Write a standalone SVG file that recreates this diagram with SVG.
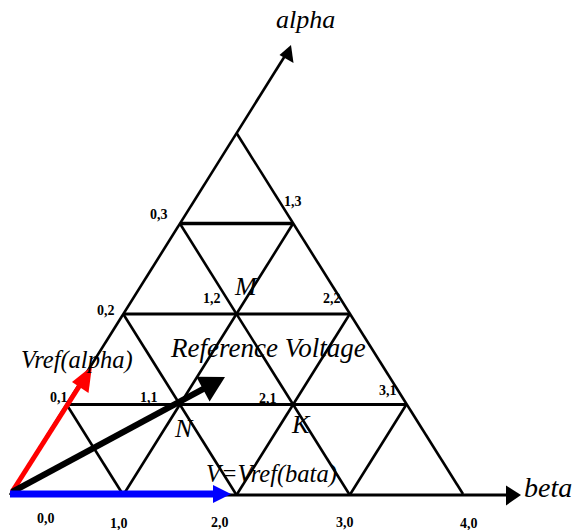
<svg xmlns="http://www.w3.org/2000/svg" width="575" height="530" viewBox="0 0 575 530">
<style>
.g{stroke:#000;stroke-width:2.6;fill:none;stroke-linecap:butt}
.lb{font-family:"Liberation Serif","Times New Roman",serif;font-weight:bold;font-size:14px;fill:#000}
.it{font-family:"Liberation Serif","Times New Roman",serif;font-style:italic;fill:#000}
</style>
<rect width="575" height="530" fill="#fff"/>
<g id="grid">
<line class="g" x1="10" y1="495" x2="288" y2="51"/>
<polygon points="291,45 293.5,63 279.5,55" fill="#000"/>
<line class="g" x1="236.5" y1="133" x2="463" y2="494"/>
<line class="g" x1="10" y1="495" x2="508" y2="495" style="stroke-width:3"/>
<polygon points="521,495 506,485.5 506,505.5" fill="#000"/>
<line class="g" x1="66.6" y1="404.5" x2="406.4" y2="404.5" style="stroke-width:3"/>
<line class="g" x1="123.25" y1="314" x2="349.75" y2="314" style="stroke-width:3"/>
<line class="g" x1="179.9" y1="223.5" x2="293.1" y2="223.5" style="stroke-width:3.5"/>
<line class="g" x1="123.25" y1="495" x2="293.1" y2="223.5"/>
<line class="g" x1="236.5" y1="495" x2="349.75" y2="314"/>
<line class="g" x1="349.75" y1="495" x2="406.4" y2="404.5"/>
<line class="g" x1="66.6" y1="404.5" x2="123.25" y2="495"/>
<line class="g" x1="123.25" y1="314" x2="236.5" y2="495"/>
<line class="g" x1="179.9" y1="223.5" x2="349.75" y2="495"/>
</g>
<g id="vectors">
<line x1="12" y1="492" x2="80" y2="385" stroke="#f00" stroke-width="5"/>
<polygon points="92,366 88.5,393 72,382" fill="#f00"/>
<line x1="12" y1="492" x2="205" y2="388" stroke="#000" stroke-width="6"/>
<polygon points="225,377 209.6,401.5 196.3,376.7" fill="#000"/>
<line x1="10" y1="494" x2="216" y2="494" stroke="#00f" stroke-width="7"/>
<polygon points="231,494 213,485 213,503" fill="#00f"/>
</g>
<g id="labels">
<text class="lb" x="37" y="523">0,0</text>
<text class="lb" x="110" y="528">1,0</text>
<text class="lb" x="211" y="527">2,0</text>
<text class="lb" x="336" y="527">3,0</text>
<text class="lb" x="460" y="528">4,0</text>
<text class="lb" x="50" y="402">0,1</text>
<text class="lb" x="140" y="402">1,1</text>
<text class="lb" x="259" y="403">2,1</text>
<text class="lb" x="379" y="395">3,1</text>
<text class="lb" x="97" y="315">0,2</text>
<text class="lb" x="203" y="303">1,2</text>
<text class="lb" x="323" y="303">2,2</text>
<text class="lb" x="150" y="219">0,3</text>
<text class="lb" x="284" y="206">1,3</text>
<text class="it" x="276" y="28" font-size="26">alpha</text>
<text class="it" x="524" y="497" font-size="28">beta</text>
<text class="it" x="171" y="357" font-size="27">Reference Voltage</text>
<text class="it" x="21" y="368" font-size="24.5">Vref(alpha)</text>
<text class="it" x="206" y="482" font-size="24.5">V=Vref(bata)</text>
<text class="it" x="235" y="295" font-size="26">M</text>
<text class="it" x="175" y="437" font-size="26">N</text>
<text class="it" x="292" y="433" font-size="26">K</text>
</g>
</svg>
